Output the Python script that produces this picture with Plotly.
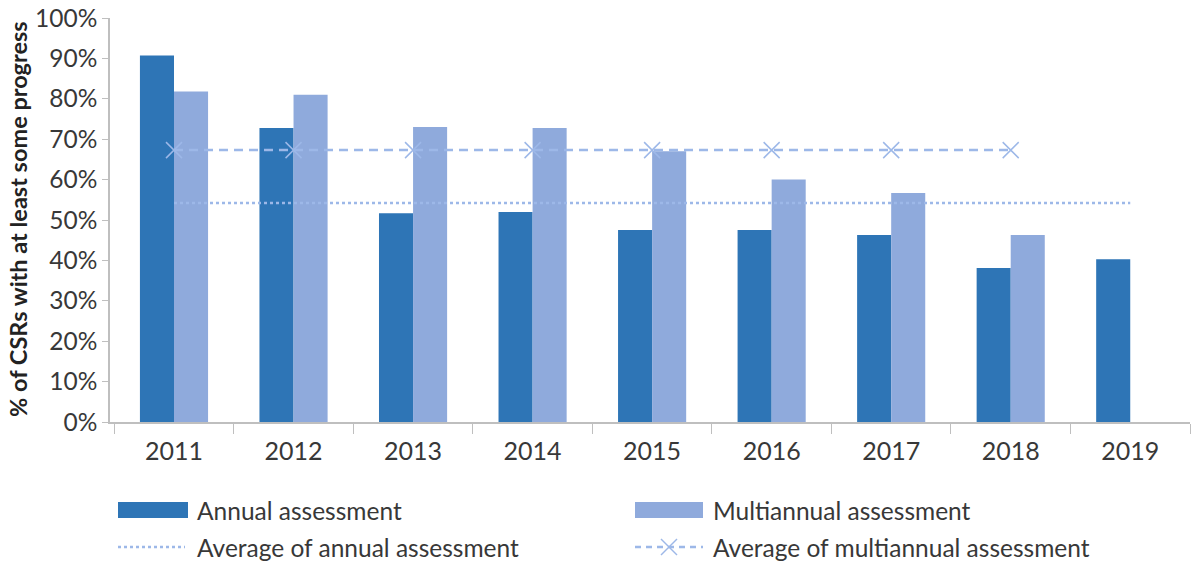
import plotly.graph_objects as go

years = ["2011", "2012", "2013", "2014", "2015", "2016", "2017", "2018", "2019"]
annual = [0.907, 0.728, 0.517, 0.520, 0.475, 0.475, 0.463, 0.381, 0.403]
multiannual = [0.818, 0.810, 0.730, 0.728, 0.670, 0.600, 0.567, 0.463, None]
avg_annual_value = 0.542
avg_multi_value = 0.673
multi_years = years[:8]

C_ANNUAL = "#2e75b6"
C_MULTI = "#8faadc"
C_LINE = "#9db8e8"
FONT = "Lato"
TXT = "#383838"


def px(x):
    return (x - 110) / 1080


def py(y):
    return (422 - y) / 404


fig = go.Figure()
fig.add_trace(go.Bar(x=years, y=annual, name="Annual assessment",
                     marker=dict(color=C_ANNUAL, line=dict(width=0))))
fig.add_trace(go.Bar(x=years, y=multiannual, name="Multiannual assessment",
                     marker=dict(color=C_MULTI, line=dict(width=0))))
fig.add_trace(go.Scatter(x=years, y=[avg_annual_value] * len(years), mode="lines",
                         name="Average of annual assessment",
                         line=dict(color=C_LINE, width=2.5, dash="dot")))
fig.add_trace(go.Scatter(x=multi_years, y=[avg_multi_value] * len(multi_years),
                         mode="lines+markers", name="Average of multiannual assessment",
                         line=dict(color=C_LINE, width=2.5, dash="9px,6px"),
                         marker=dict(symbol="x-thin", size=16,
                                     line=dict(color=C_LINE, width=1.5))))

# manual legend
lx1, lx2 = 118, 635
ly1, ly2 = 510, 547
mx, mr = 669, 8
shapes = [
    dict(type="rect", xref="paper", yref="paper", x0=px(lx1), x1=px(188),
         y0=py(ly1 + 8), y1=py(ly1 - 8), fillcolor=C_ANNUAL, line=dict(width=0)),
    dict(type="rect", xref="paper", yref="paper", x0=px(lx2), x1=px(703),
         y0=py(ly1 + 8), y1=py(ly1 - 8), fillcolor=C_MULTI, line=dict(width=0)),
    dict(type="line", xref="paper", yref="paper", x0=px(lx1), x1=px(185),
         y0=py(ly2), y1=py(ly2), line=dict(color=C_LINE, width=2.5, dash="dot")),
    dict(type="line", xref="paper", yref="paper", x0=px(lx2), x1=px(703),
         y0=py(ly2), y1=py(ly2), line=dict(color=C_LINE, width=2.5, dash="6px,5px")),
    dict(type="line", xref="paper", yref="paper", x0=px(mx - mr), x1=px(mx + mr),
         y0=py(ly2 - mr), y1=py(ly2 + mr), line=dict(color=C_LINE, width=1.5)),
    dict(type="line", xref="paper", yref="paper", x0=px(mx - mr), x1=px(mx + mr),
         y0=py(ly2 + mr), y1=py(ly2 - mr), line=dict(color=C_LINE, width=1.5)),
]

annotations = []
for x, y, t in [(195, ly1, "Annual assessment"), (711, ly1, "Multiannual assessment"),
                (195, ly2, "Average of annual assessment"),
                (711, ly2, "Average of multiannual assessment")]:
    annotations.append(dict(x=px(x), y=py(y), xref="paper", yref="paper", text=t,
                            showarrow=False, xanchor="left", yanchor="middle",
                            font=dict(family=FONT, size=24.5, color=TXT)))
annotations.append(dict(x=px(18), y=py(219), xref="paper", yref="paper",
                        text="<b>% of CSRs with at least some progress</b>",
                        textangle=-90, showarrow=False, xanchor="center",
                        yanchor="middle",
                        font=dict(family=FONT, size=23.5, color="#222222")))

fig.update_layout(
    width=1195, height=565,
    margin=dict(l=110, r=5, t=18, b=143),
    paper_bgcolor="white", plot_bgcolor="white",
    barmode="group", bargap=0.43, bargroupgap=0,
    showlegend=False,
    font=dict(family=FONT, color=TXT),
    shapes=shapes, annotations=annotations,
    xaxis=dict(type="category", showgrid=False, showline=True, linecolor="#bfbfbf",
               linewidth=1.5, ticks="outside", tickson="boundaries", ticklen=10,
               tickcolor="#bfbfbf", automargin=False, ticklabelstandoff=6,
               tickfont=dict(size=25, family=FONT, color=TXT)),
    yaxis=dict(range=[0, 1], dtick=0.1, tickformat=".0%", showgrid=False,
               showline=True, linecolor="#bfbfbf", linewidth=1.5, ticks="outside",
               ticklen=6, tickcolor="#bfbfbf", zeroline=False, automargin=False,
               tickfont=dict(size=24.5, family=FONT, color=TXT)),
)

fig.write_html("out.html",
               config={"displayModeBar": False},
               post_script="document.body.style.margin='0';"
                           "document.body.style.overflow='hidden';")
